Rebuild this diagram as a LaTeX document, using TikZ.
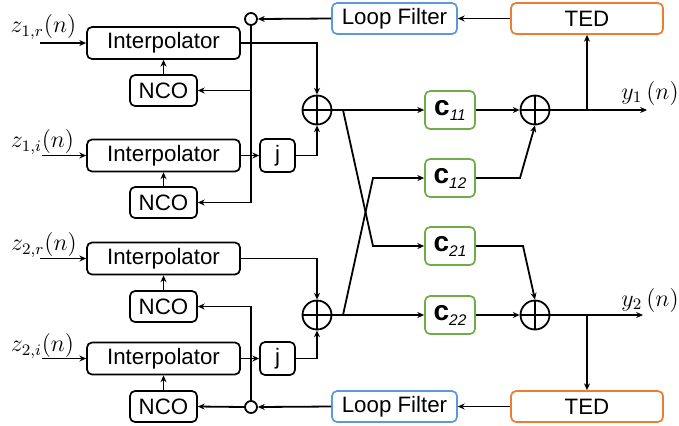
\documentclass[tikz,border=0pt]{standalone}
\usepackage{amsmath}
\usepackage{fontspec}
\setmainfont{Liberation Sans}
\usetikzlibrary{arrows.meta}
\definecolor{lfblue}{HTML}{5B9BD5}
\definecolor{tedorange}{HTML}{ED7D31}
\definecolor{eqgreen}{HTML}{70AD47}
\newcommand{\coef}[1]{{\fontsize{14}{16}\selectfont\textbf{c}}\raisebox{-2.5pt}{\fontsize{7.7}{9}\selectfont\textit{#1}}}

\begin{document}
\begin{tikzpicture}[x=0.5pt, y=-0.5pt, >={Stealth[length=3.4pt,width=3pt]}, line width=0.9pt,
    every node/.style={font=\fontsize{11.15}{13}\selectfont, inner sep=0pt},
    blk/.style={draw, rounded corners=2.5pt, line width=0.85pt},
    interp/.style={blk, minimum width=76.5pt, minimum height=16pt},
    nco/.style={blk, minimum width=33.5pt, minimum height=15.5pt},
    jbox/.style={blk, minimum width=17.5pt, minimum height=16.5pt},
    lf/.style={blk, draw=lfblue, minimum width=62.5pt, minimum height=15.5pt},
    ted/.style={blk, draw=tedorange, minimum width=76pt, minimum height=15.5pt},
    cbox/.style={blk, draw=eqgreen, minimum width=25pt, minimum height=19pt},
    sumnode/.style={draw, circle, minimum size=14.5pt, path picture={
        \draw (path picture bounding box.north) -- (path picture bounding box.south)
              (path picture bounding box.west) -- (path picture bounding box.east);}},
    junc/.style={draw, circle, minimum size=6pt},
    lbl/.style={font=\fontsize{11.5}{13}\selectfont}]
    \useasboundingbox (0,0) rectangle (679,425);

    % 插值器与NCO
    \node[interp] (ip1) at (163.5,43) {Interpolator};
    \node[interp] (ip2) at (163.5,155.5) {Interpolator};
    \node[interp] (ip3) at (163.5,258.5) {Interpolator};
    \node[interp] (ip4) at (163.5,358.5) {Interpolator};
    \node[nco] (nco1) at (163.5,90.5) {NCO};
    \node[nco] (nco2) at (163.5,202.5) {NCO};
    \node[nco] (nco3) at (163.5,306.5) {NCO};
    \node[nco] (nco4) at (163.5,406.5) {NCO};
    \node[jbox] (j1) at (277.5,155.5) {j};
    \node[jbox] (j2) at (277.5,358.5) {j};

    % 合路与均衡器
    \node[sumnode] (s1) at (317,110) {};
    \node[sumnode] (s3) at (317,315) {};
    \node[sumnode] (s2) at (535,110) {};
    \node[sumnode] (s4) at (535,315) {};
    \node[cbox] (c11) at (450,110) {\coef{11}};
    \node[cbox] (c12) at (450,178) {\coef{12}};
    \node[cbox] (c21) at (450,246) {\coef{21}};
    \node[cbox] (c22) at (450,315) {\coef{22}};

    % 定时环路
    \node[junc] (jn1) at (251,19) {};
    \node[junc] (jn2) at (251,407) {};
    \node[lf] (lf1) at (394.5,18.5) {Loop Filter};
    \node[lf] (lf2) at (394.5,406.5) {Loop Filter};
    \node[ted] (ted1) at (587,18.5) {TED};
    \node[ted] (ted2) at (587,406.5) {TED};

    % 信号标注
    \node[lbl] (zlab1) at (43.5,27) {$z_{1,r}(n)$};
    \node[lbl] (zlab2) at (42.5,142) {$z_{1,i}(n)$};
    \node[lbl] (zlab3) at (44,245) {$z_{2,r}(n)$};
    \node[lbl] (zlab4) at (42.5,346) {$z_{2,i}(n)$};
    \node[lbl] (ylab1) at (650,93) {$y_1\,(n)$};
    \node[lbl] (ylab2) at (650,300) {$y_2\,(n)$};

    \coordinate (in1) at (40,43);
    \coordinate (in2) at (42,155.5);
    \coordinate (in3) at (40,258.5);
    \coordinate (in4) at (42,358.5);
    \coordinate (out1) at (647,110);
    \coordinate (out2) at (643,315);
    \coordinate (k1) at (343,110);
    \coordinate (k2) at (373,246);
    \coordinate (k3) at (343,315);
    \coordinate (k4) at (373,178);
    \coordinate (k5) at (520,178);
    \coordinate (k6) at (523,246);

    % 输入
    \draw[->] (in1) -- (ip1.west);
    \draw[->] (in2) -- (ip2.west);
    \draw[->] (in3) -- (ip3.west);
    \draw[->] (in4) -- (ip4.west);
    \draw[->] (nco1) -- (ip1);
    \draw[->] (nco2) -- (ip2);
    \draw[->] (nco3) -- (ip3);
    \draw[->] (nco4) -- (ip4);

    % 合路
    \draw[->] (ip1.east) -| (s1.north);
    \draw[->] (ip2.east) -- (j1.west);
    \draw[->] (j1.east) -| (s1.south);
    \draw[->] (ip3.east) -| (s3.north);
    \draw[->] (ip4.east) -- (j2.west);
    \draw[->] (j2.east) -| (s3.south);

    % 均衡
    \draw[->] (s1.east) -- (c11.west);
    \draw[->] (s3.east) -- (c22.west);
    \draw[->] (k1) -- (k2) -- (c21.west);
    \draw[->] (k3) -- (k4) -- (c12.west);
    \draw[->] (c11.east) -- (s2.west);
    \draw[->] (c12.east) -- (k5) -- (s2.south);
    \draw[->] (c21.east) -- (k6) -- (s4.north);
    \draw[->] (c22.east) -- (s4.west);
    \draw[->] (s2.east) -- (out1);
    \draw[->] (s4.east) -- (out2);

    % 反馈
    \draw[->] (ted1.south |- s2.east) -- (ted1.south);
    \draw[->] (ted2.north |- s4.east) -- (ted2.north);
    \draw[->] (ted1.west) -- (lf1.east);
    \draw[->] (lf1.west) -- (jn1.east);
    \draw[->] (jn1.south) |- (nco2.east);
    \draw[->] (jn1 |- nco1.east) -- (nco1.east);
    \draw[->] (ted2.west) -- (lf2.east);
    \draw[->] (lf2.west) -- (jn2.east);
    \draw[->] (jn2.west) -- (nco4.east);
    \draw[->] (jn2.north) |- (nco3.east);
\end{tikzpicture}
\end{document}
